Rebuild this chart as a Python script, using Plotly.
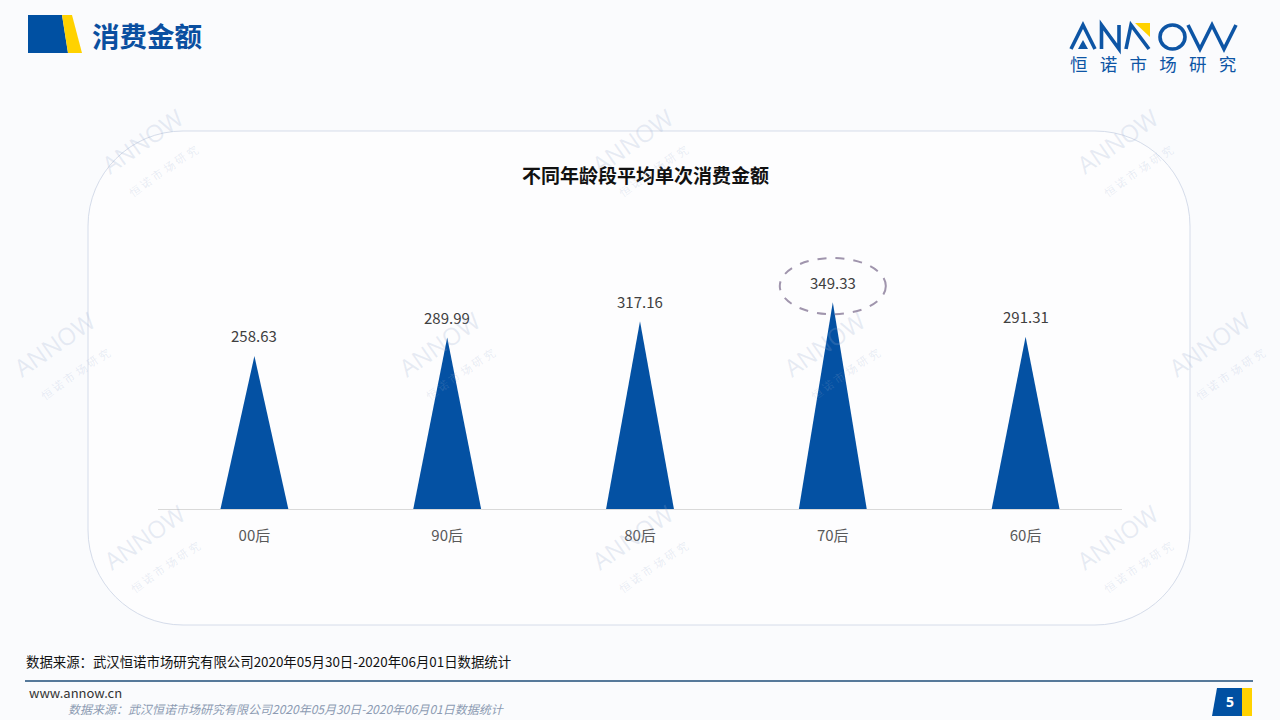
import plotly.graph_objects as go

# ---------------- data ----------------
categories = ["00后", "90后", "80后", "70后", "60后"]
values = [258.63, 289.99, 317.16, 349.33, 291.31]
highlight_index = 3

chart_title = "不同年龄段平均单次消费金额"
page_title = "消费金额"
source_text = "数据来源：武汉恒诺市场研究有限公司2020年05月30日-2020年06月01日数据统计"

W, H = 1280, 720
def px(x): return x / W
def py(y): return 1 - y / H

CJK = "Noto Sans CJK SC"
BLUE = "#0451a3"
LOGO = "#0d55a5"

fig = go.Figure()

half = 0.176
for i, v in enumerate(values):
    fig.add_trace(go.Scatter(
        x=[i - half, i, i + half, i - half],
        y=[0, v, 0, 0],
        fill="toself", fillcolor=BLUE, mode="lines",
        line=dict(width=0, color=BLUE), hoverinfo="skip", showlegend=False))
    fig.add_annotation(x=i, y=v, xref="x", yref="y", text=f"{v:.2f}",
                       showarrow=False, yanchor="middle", yshift=20,
                       font=dict(family=CJK, size=15, color="#404040"))

# highlight ellipse
fig.add_shape(type="circle", xref="x", yref="y",
              x0=highlight_index - 0.275, x1=highlight_index + 0.275,
              y0=values[highlight_index] - 20, y1=values[highlight_index] + 75,
              line=dict(color="#a095ad", width=2, dash="dash"))

shapes = []
def P(x, y): return f"{px(x):.5f},{py(y):.5f}"
def poly(pts, closed=False):
    s = "M" + " L".join(P(x, y) for x, y in pts)
    return s + (" Z" if closed else "")

# rounded panel
x0, x1, y0, y1, r = 88, 1190, 131, 625, 95
k = 0.5523 * r
panel = (f"M{P(x0+r,y0)} L{P(x1-r,y0)} C{P(x1-r+k,y0)} {P(x1,y0+r-k)} {P(x1,y0+r)} "
         f"L{P(x1,y1-r)} C{P(x1,y1-r+k)} {P(x1-r+k,y1)} {P(x1-r,y1)} "
         f"L{P(x0+r,y1)} C{P(x0+r-k,y1)} {P(x0,y1-r+k)} {P(x0,y1-r)} "
         f"L{P(x0,y0+r)} C{P(x0,y0+r-k)} {P(x0+r-k,y0)} {P(x0+r,y0)} Z")
shapes.append(dict(type="path", xref="paper", yref="paper", path=panel,
                   line=dict(color="#d5dcea", width=1), fillcolor="#fdfdfe", layer="below"))
# top-left logo
shapes.append(dict(type="path", xref="paper", yref="paper",
                   path=poly([(28, 15), (62, 15), (68, 53), (28, 53)], True),
                   fillcolor="#0050a2", line=dict(width=0)))
shapes.append(dict(type="path", xref="paper", yref="paper",
                   path=poly([(62, 15), (72, 15), (82, 53), (68, 53)], True),
                   fillcolor="#ffd200", line=dict(width=0)))
# ANNOW logo drawn as strokes
stroke = dict(color=LOGO, width=3.6)
for pts in [
    [(1071, 49), (1083, 25), (1095, 49)],                       # A
    [(1101.5, 49), (1101.5, 25), (1119, 49), (1119, 25)],        # N
    [(1126, 49), (1131, 25), (1149, 49)],                        # Λ
    [(1188, 25), (1200, 49), (1212, 25), (1224, 49), (1236, 25)],  # W
]:
    shapes.append(dict(type="path", xref="paper", yref="paper", path=poly(pts),
                       line=stroke))
shapes.append(dict(type="path", xref="paper", yref="paper",
                   path=poly([(1078, 49), (1083, 40), (1088, 49)], True),
                   fillcolor=LOGO, line=dict(width=0)))
shapes.append(dict(type="circle", xref="paper", yref="paper",
                   x0=px(1160), x1=px(1185), y0=py(49), y1=py(25), line=stroke))
shapes.append(dict(type="path", xref="paper", yref="paper",
                   path=poly([(1135, 23), (1150, 23), (1150, 37)], True),
                   fillcolor="#ffd200", line=dict(width=0)))
# footer line
shapes.append(dict(type="line", xref="paper", yref="paper",
                   x0=px(25), x1=px(1253), y0=py(681), y1=py(681),
                   line=dict(color="#1f4e79", width=1.5)))
# page number box
shapes.append(dict(type="path", xref="paper", yref="paper",
                   path=poly([(1217, 688), (1242, 688), (1242, 716), (1212, 716)], True),
                   fillcolor="#0050a2", line=dict(width=0)))
shapes.append(dict(type="rect", xref="paper", yref="paper",
                   x0=px(1242), x1=px(1252), y0=py(716), y1=py(688),
                   fillcolor="#ffd200", line=dict(width=0)))
for s in shapes:
    fig.add_shape(**s)

def ann(x, y, text, size, color, xanchor="left", family=CJK, **kw):
    fig.add_annotation(x=px(x), y=py(y), xref="paper", yref="paper", text=text,
                       showarrow=False, xanchor=xanchor, yanchor="middle",
                       font=dict(family=family, size=size, color=color), **kw)

ann(90, 35, f"<b>{page_title}</b>", 27.5, "#0a4fa0")
sp = "\u2002\u2009"
ann(1153, 63, sp.join("恒诺市场研究"), 17.5, LOGO, xanchor="center")

ann(645, 174, f"<b>{chart_title}</b>", 19, "#111111", xanchor="center")
ann(24, 661, source_text, 13.4, "#111111")
ann(27, 692, "www.annow.cn", 13, "#333333")
ann(66, 708, f"<i>{source_text}</i>", 12, "#8d9bb3")
ann(1230, 701, "<b>5</b>", 14, "#ffffff", xanchor="center", family="Open Sans")

# watermarks
wm_pos = [(150, 152), (640, 152), (1125, 152), (62, 355), (447, 355), (832, 355),
          (1217, 355), (152, 548), (640, 548), (1125, 548)]
for (wx, wy) in wm_pos:
    fig.add_annotation(x=px(wx), y=py(wy), xref="paper", yref="paper",
                       text="ANNOW<br><span style='font-size:11px'>恒 诺 市 场 研 究</span>",
                       showarrow=False, textangle=-35, xanchor="center", yanchor="middle",
                       font=dict(family="Open Sans", size=24, color="rgba(150,170,205,0.22)"))

fig.update_layout(
    width=W, height=H, autosize=False,
    margin=dict(l=0, r=0, t=0, b=0),
    paper_bgcolor="#fafbfd", plot_bgcolor="rgba(0,0,0,0)",
    showlegend=False,
    xaxis=dict(domain=[px(158), px(1122)], range=[-0.5, 4.5],
               tickvals=list(range(len(categories))), ticktext=categories,
               showline=True, linecolor="#d9d9d9", linewidth=1,
               showgrid=False, zeroline=False, ticks="", ticklabelstandoff=13,
               tickfont=dict(family=CJK, size=15, color="#595959"), fixedrange=True),
    yaxis=dict(domain=[py(509), py(230)], range=[0, (509 - 230) / 0.5916],
               visible=False, showgrid=False, zeroline=False, fixedrange=True),
)

fig.write_html("out.html", config={"displayModeBar": False},
               post_script="document.body.style.margin='0';document.body.style.overflow='hidden';")
